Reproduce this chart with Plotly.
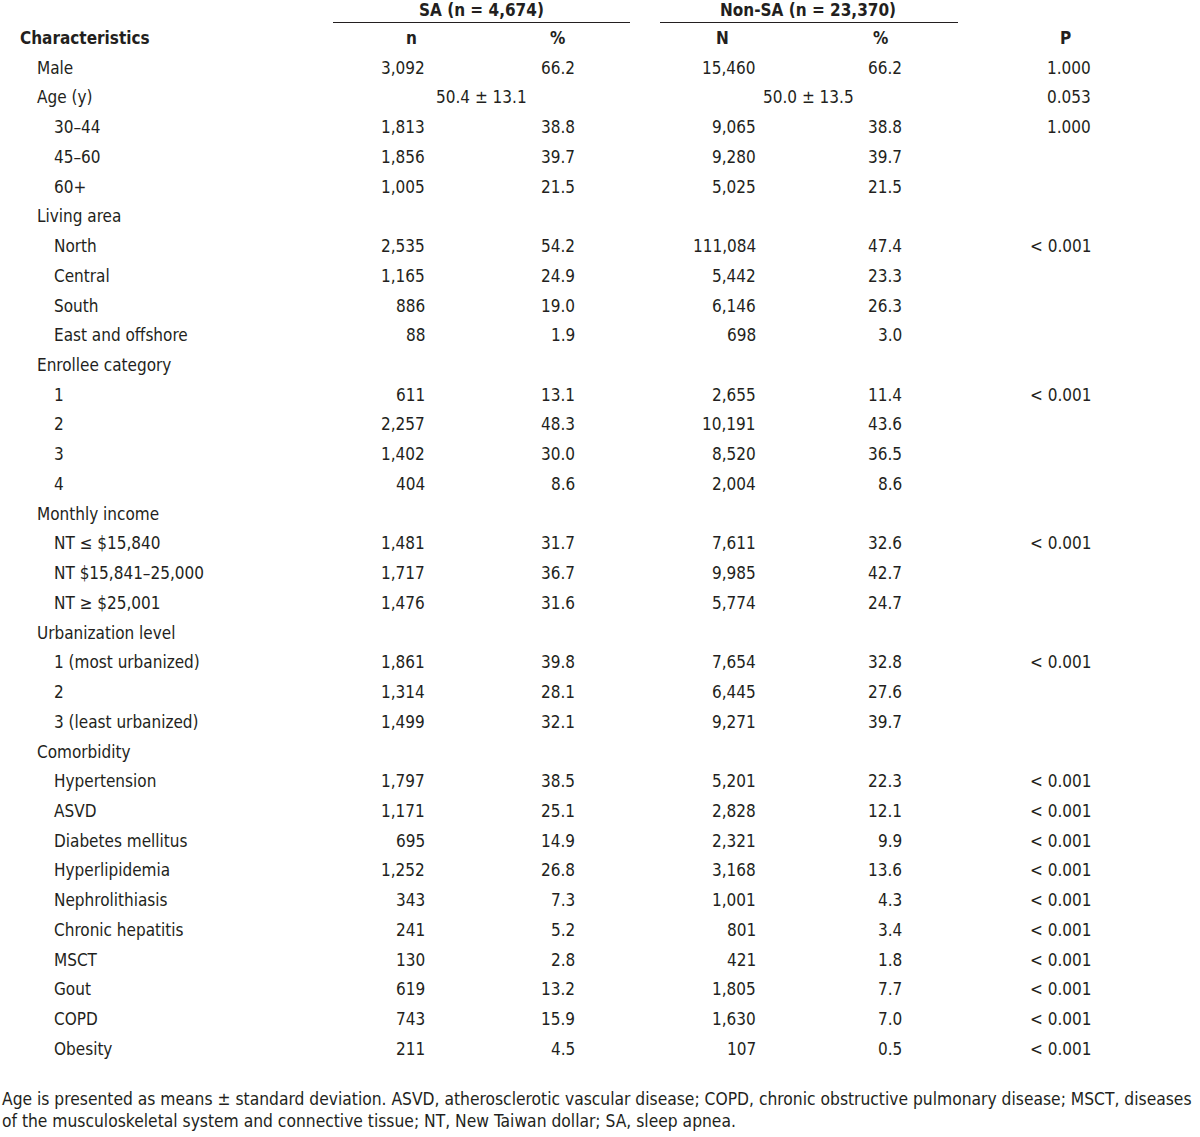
import plotly.graph_objects as go

# ---- data ----
labels = ["Male", "Age (y)", "30\u201344", "45\u201360", "60+",
          "Living area", "North", "Central", "South", "East and offshore",
          "Enrollee category", "1", "2", "3", "4",
          "Monthly income", "NT \u2264 $15,840", "NT $15,841\u201325,000", "NT \u2265 $25,001",
          "Urbanization level", "1 (most urbanized)", "2", "3 (least urbanized)",
          "Comorbidity", "Hypertension", "ASVD", "Diabetes mellitus", "Hyperlipidemia",
          "Nephrolithiasis", "Chronic hepatitis", "MSCT", "Gout", "COPD", "Obesity"]
levels = [1, 1, 2, 2, 2,
          1, 2, 2, 2, 2,
          1, 2, 2, 2, 2,
          1, 2, 2, 2,
          1, 2, 2, 2,
          1, 2, 2, 2, 2, 2, 2, 2, 2, 2, 2]
sa_n = ["3,092", "", "1,813", "1,856", "1,005",
        "", "2,535", "1,165", "886", "88",
        "", "611", "2,257", "1,402", "404",
        "", "1,481", "1,717", "1,476",
        "", "1,861", "1,314", "1,499",
        "", "1,797", "1,171", "695", "1,252", "343", "241", "130", "619", "743", "211"]
sa_pct = ["66.2", "", "38.8", "39.7", "21.5",
          "", "54.2", "24.9", "19.0", "1.9",
          "", "13.1", "48.3", "30.0", "8.6",
          "", "31.7", "36.7", "31.6",
          "", "39.8", "28.1", "32.1",
          "", "38.5", "25.1", "14.9", "26.8", "7.3", "5.2", "2.8", "13.2", "15.9", "4.5"]
non_n = ["15,460", "", "9,065", "9,280", "5,025",
         "", "111,084", "5,442", "6,146", "698",
         "", "2,655", "10,191", "8,520", "2,004",
         "", "7,611", "9,985", "5,774",
         "", "7,654", "6,445", "9,271",
         "", "5,201", "2,828", "2,321", "3,168", "1,001", "801", "421", "1,805", "1,630", "107"]
non_pct = ["66.2", "", "38.8", "39.7", "21.5",
           "", "47.4", "23.3", "26.3", "3.0",
           "", "11.4", "43.6", "36.5", "8.6",
           "", "32.6", "42.7", "24.7",
           "", "32.8", "27.6", "39.7",
           "", "22.3", "12.1", "9.9", "13.6", "4.3", "3.4", "1.8", "7.7", "7.0", "0.5"]
p_vals = ["1.000", "0.053", "1.000", "", "",
          "", "< 0.001", "", "", "",
          "", "< 0.001", "", "", "",
          "", "< 0.001", "", "",
          "", "< 0.001", "", "",
          "", "< 0.001", "< 0.001", "< 0.001", "< 0.001", "< 0.001", "< 0.001",
          "< 0.001", "< 0.001", "< 0.001", "< 0.001"]
age_sa = "50.4 \u00b1 13.1"
age_non = "50.0 \u00b1 13.5"
group_titles = ["SA (n = 4,674)", "Non-SA (n = 23,370)"]
col_heads = ["Characteristics", "n", "%", "N", "%", "P"]
footnote = ("Age is presented as means \u00b1 standard deviation. ASVD, atherosclerotic vascular disease; "
            "COPD, chronic obstructive pulmonary disease; MSCT, diseases<br>of the musculoskeletal system "
            "and connective tissue; NT, New Taiwan dollar; SA, sleep apnea.")

# ---- layout constants ----
FONT = "DejaVu Sans Condensed, Liberation Sans Narrow, Arial Narrow, sans-serif"
FS = 17
COLOR = "#231f20"
ROW0_PX = 38.0
STEP = 29.73
H = 1137

def yrow(px):
    return (px - ROW0_PX) / STEP

ann = []
def add(x, y, text, anchor="left", bold=False, size=FS):
    ann.append(dict(x=x, y=y, xref="x", yref="y", text=f"<b>{text}</b>" if bold else text,
                    showarrow=False, xanchor=anchor, yanchor="middle",
                    font=dict(family=FONT, size=size, color=COLOR)))

# group headers
add(481, yrow(10), group_titles[0], "center", True)
add(808, yrow(10), group_titles[1], "center", True)
# column headers
add(18, 0, col_heads[0], "left", True)
add(411, 0, col_heads[1], "center", True)
add(557, 0, col_heads[2], "center", True)
add(722, 0, col_heads[3], "center", True)
add(880, 0, col_heads[4], "center", True)
add(1065, 0, col_heads[5], "center", True)

x_label = {1: 35, 2: 52}
for i, lab in enumerate(labels):
    r = i + 1
    add(x_label[levels[i]], r, lab, "left")
    if sa_n[i]:
        add(427, r, sa_n[i], "right")
    if sa_pct[i]:
        add(577, r, sa_pct[i], "right")
    if non_n[i]:
        add(758, r, non_n[i], "right")
    if non_pct[i]:
        add(904, r, non_pct[i], "right")
    if p_vals[i]:
        add(1093, r, p_vals[i], "right")

age_row = labels.index("Age (y)") + 1
add(481, age_row, age_sa, "center")
add(808, age_row, age_non, "center")

ann.append(dict(x=0, y=yrow(1109.5), xref="x", yref="y", text=footnote, showarrow=False,
                xanchor="left", yanchor="middle", align="left",
                font=dict(family=FONT, size=17.3, color=COLOR)))

shapes = [
    dict(type="line", xref="x", yref="y", x0=333, x1=630, y0=yrow(22.5), y1=yrow(22.5),
         line=dict(color=COLOR, width=1.2)),
    dict(type="line", xref="x", yref="y", x0=660, x1=958, y0=yrow(22.5), y1=yrow(22.5),
         line=dict(color=COLOR, width=1.2)),
]

fig = go.Figure()
fig.update_layout(
    width=1200, height=H,
    margin=dict(l=0, r=0, t=0, b=0),
    paper_bgcolor="white", plot_bgcolor="white",
    xaxis=dict(range=[0, 1200], visible=False, fixedrange=True),
    yaxis=dict(range=[yrow(H), yrow(0)], visible=False, fixedrange=True),
    annotations=ann, shapes=shapes, showlegend=False,
)
fig.write_html("out.html", config={"displayModeBar": False},
               post_script="document.body.style.margin='0';document.body.style.overflow='hidden';")
